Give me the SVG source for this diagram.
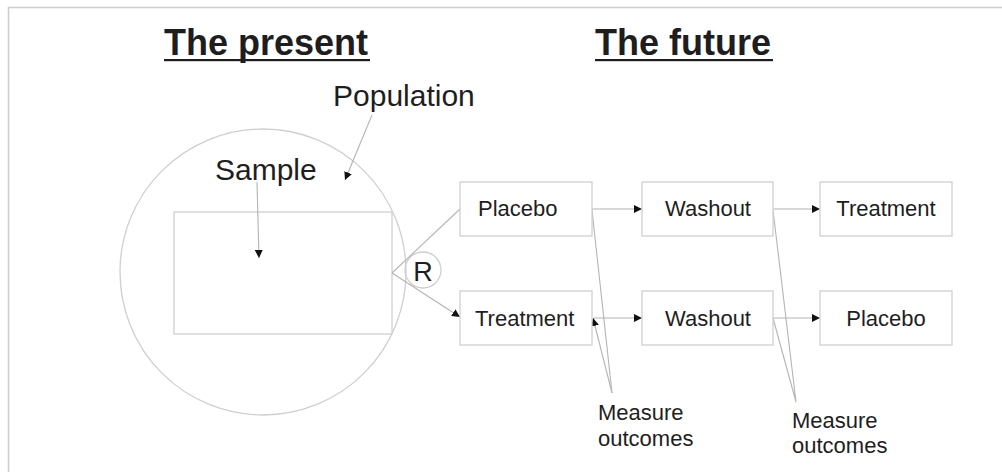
<svg xmlns="http://www.w3.org/2000/svg" width="1002" height="472" viewBox="0 0 1002 472">
<style>
text{font-family:"Liberation Sans",Arial,sans-serif;fill:#1e1e1e}
.t{font-size:22px}
.big{font-size:30px}
.title{font-size:36px;font-weight:bold}
.box{fill:#fff;stroke:#cfcfcf;stroke-width:1.3}
.ln{fill:none;stroke:#b4b4b4;stroke-width:1.1}
.arr{fill:none;stroke:#b4b4b4;stroke-width:1.1;marker-end:url(#ah)}
</style>
<defs>
<marker id="ah" viewBox="0 0 10 10" refX="10" refY="5" markerWidth="8" markerHeight="8" markerUnits="userSpaceOnUse" orient="auto">
<path d="M0,0 L10,5 L0,10 z" fill="#111"/>
</marker>
</defs>
<rect width="1002" height="472" fill="#fff"/>
<path d="M8.5,472 V7.5 H1002" fill="none" stroke="#cccccc" stroke-width="1.5"/>
<g id="titles">
<text class="title" x="164" y="55">The present</text>
<rect x="164" y="59" width="206" height="2.2" fill="#1e1e1e"/>
<text class="title" x="595" y="55">The future</text>
<rect x="595" y="59" width="178" height="2.2" fill="#1e1e1e"/>
</g>
<g id="population">
<circle cx="263" cy="272" r="143" fill="none" stroke="#cfcfcf" stroke-width="1.3"/>
<text class="big" x="333" y="106">Population</text>
</g>
<g id="sample">
<rect x="174" y="212" width="218" height="122" fill="none" stroke="#cfcfcf" stroke-width="1.3"/>
<text class="big" x="215" y="180">Sample</text>
</g>
<g id="randomise">
<circle cx="423" cy="270" r="18" fill="none" stroke="#cfcfcf" stroke-width="1.3"/>
<text x="423" y="281" text-anchor="middle" style="font-size:27px">R</text>
</g>
<g id="connectors">
<path class="arr" d="M372,115 L345,180"/>
<path class="arr" d="M257,182 L259,258"/>
<path class="ln" d="M392,273 L460,209"/>
<path class="arr" d="M392,273 L460,317"/>
<path class="arr" d="M592,209 L642,209"/>
<path class="arr" d="M773,209 L820,209"/>
<path class="arr" d="M594,318 L642,318"/>
<path class="arr" d="M773,318 L820,318"/>
<path class="ln" d="M592,210 L612,393"/>
<path class="arr" d="M612,393 L593,318"/>
<path class="ln" d="M773,210 L796,402 L773,318"/>
</g>
<g id="placebo1">
<rect class="box" x="460" y="182" width="132" height="54"/>
<text class="t" x="478" y="216">Placebo</text>
</g>
<g id="treatment1">
<rect class="box" x="460" y="291" width="132" height="54"/>
<text class="t" x="475" y="326">Treatment</text>
</g>
<g id="washout1">
<rect class="box" x="642" y="182" width="131" height="54"/>
<text class="t" x="708" y="216" text-anchor="middle">Washout</text>
</g>
<g id="washout2">
<rect class="box" x="642" y="291" width="131" height="54"/>
<text class="t" x="708" y="326" text-anchor="middle">Washout</text>
</g>
<g id="treatment2">
<rect class="box" x="820" y="182" width="132" height="54"/>
<text class="t" x="886" y="216" text-anchor="middle">Treatment</text>
</g>
<g id="placebo2">
<rect class="box" x="820" y="291" width="132" height="54"/>
<text class="t" x="886" y="326" text-anchor="middle">Placebo</text>
</g>
<g id="measure1">
<text class="t" x="598" y="420">Measure</text>
<text class="t" x="598" y="446">outcomes</text>
</g>
<g id="measure2">
<text class="t" x="792" y="428">Measure</text>
<text class="t" x="792" y="453">outcomes</text>
</g>
</svg>
